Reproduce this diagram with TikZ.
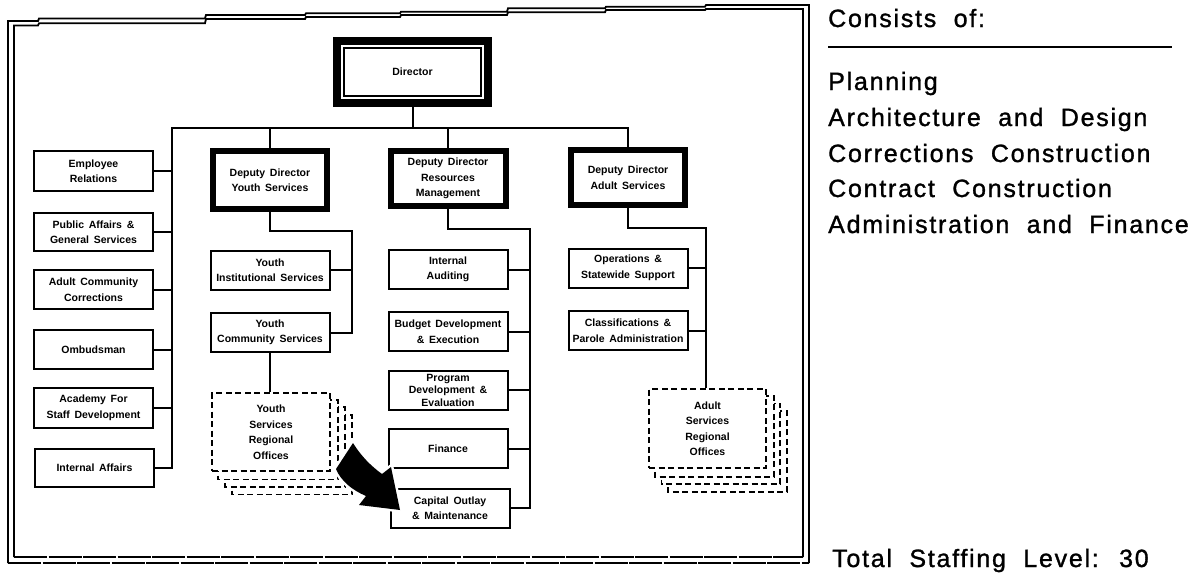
\documentclass[tikz,border=0pt]{standalone}
\usepackage{fontspec}
\setmainfont{Liberation Sans}
\newfontfamily\sidefont[LetterSpace=7,WordSpace=2,FakeBold=1.2]{Liberation Sans}
\newfontfamily\unitfont[WordSpace=1.6]{Liberation Sans}
\usetikzlibrary{backgrounds}

\tikzset{
  unit/.style={draw, line width=2pt, fill=white, minimum width=119pt,
    minimum height=39pt, inner sep=0pt, align=center,
    font=\unitfont\bfseries\fontsize{10.5}{15.5}\selectfont},
  deputy/.style={unit, line width=6pt, minimum width=114pt, minimum height=55pt},
  director/.style={unit, line width=8pt, minimum width=151pt, minimum height=62pt},
  office/.style={unit, line width=1.8pt, dash pattern=on 6pt off 3.5pt,
    minimum width=118pt, minimum height=78pt},
  backpage/.style={draw, fill=white, line width=1.8pt, dash pattern=on 6pt off 3.5pt},
  conn/.style={line width=2pt},
  frame/.style={line width=1.8pt},
  side/.style={inner sep=0pt, anchor=base west,
    font=\sidefont\fontsize{25}{29}\selectfont},
}

\begin{document}
\begin{tikzpicture}[x=1pt,y=-1pt]
\useasboundingbox (0,0) rectangle (1201,573);

% ---- double frame around the chart
\draw[frame] (8,563) -- (8,21) -- (38,21) -- (39,18.5) -- (205,18.5) -- (206,15)
  -- (305,15) -- (306,13.3) -- (400,13.3) -- (401,11.7) -- (507,11.7) -- (508,8.3)
  -- (605,8.3) -- (606,6.7) -- (705,6.7) -- (706,5) -- (809,5) -- (809,563);
\draw[frame] (14,557) -- (14,25.5) -- (38,25.5) -- (39,23.3) -- (205,23.3) -- (206,19)
  -- (305,19) -- (306,17) -- (400,17) -- (401,15) -- (507,15) -- (508,12.3)
  -- (605,12.3) -- (606,10) -- (705,10) -- (706,9) -- (803,9) -- (803,557);
\draw[frame, dash pattern=on 33pt off 1.5pt] (8,563) -- (809,563);
\draw[frame, dash pattern=on 33pt off 1.5pt] (14,557) -- (803,557);

% ---- director
\node[director] (dir) at (412.5,72) {Director};
\draw[line width=2pt] ([shift={(11,11)}]dir.north west) rectangle ([shift={(-11,-11)}]dir.south east);

% ---- staff units on the left
\node[unit, minimum height=40pt] (er)   at (93.5,171)   {Employee\\Relations};
\node[unit, minimum height=38pt] (pa)   at (93.5,232)   {Public Affairs \&\\General Services};
\node[unit] (acc)  at (93.5,289.5) {Adult Community\\Corrections};
\node[unit] (omb)  at (93.5,349.5) {Ombudsman};
\node[unit, minimum height=40pt] (acad) at (93.5,408)   {Academy For\\Staff Development};
\node[unit, minimum height=38pt] (ia)   at (94.5,468)   {Internal Affairs};

% ---- youth services
\node[deputy, minimum height=58pt] (dy) at (270,180) {Deputy Director\\Youth Services};
\node[unit] (yi) at (270,270)   {Youth\\Institutional Services};
\node[unit] (yc) at (270,332.5) {Youth\\Community Services};
\node[office] (ysro) at (271,432) {Youth\\Services\\Regional\\Offices};

% ---- resources management
\node[deputy, minimum width=115pt] (dr) at (448,178.5) {Deputy Director\\Resources\\Management};
\node[unit] (iaud) at (448,269.5) {Internal\\Auditing};
\node[unit] (bud)  at (448,331.5) {Budget Development\\\& Execution};
\node[unit, font=\unitfont\bfseries\fontsize{10.5}{12.5}\selectfont] (prog) at (448,390) {Program\\Development \&\\Evaluation};
\node[unit] (fin)  at (448,448.5) {Finance};
\node[unit] (cap)  at (450,508)   {Capital Outlay\\\& Maintenance};

% ---- adult services
\node[deputy] (da) at (628,177.5) {Deputy Director\\Adult Services};
\node[unit] (ops) at (628,268)   {Operations \&\\Statewide Support};
\node[unit] (cls) at (628,330.5) {Classifications \&\\Parole Administration};
\node[office, minimum width=117pt, minimum height=79pt] (asro) at (707.5,428.5) {Adult\\Services\\Regional\\Offices};

% ---- stacked pages behind the regional offices
\begin{pgfonlayer}{background}
\foreach \k in {3,2,1} {
  \draw[backpage] ([shift={(7*\k,7.5*\k)}]ysro.north west) rectangle ([shift={(7*\k,7.5*\k)}]ysro.south east);
  \draw[backpage] ([shift={(6.7*\k,7.7*\k)}]asro.north west) rectangle ([shift={(6.7*\k,7.7*\k)}]asro.south east);
}
\end{pgfonlayer}

% ---- main bus
\coordinate (busL) at (172,128);
\draw[conn] (dir.south) -- (dir.south |- busL);
\draw[conn] (ia.east) -| (busL) -| (da.north);
\draw[conn] (dy.north) -- (dy.north |- busL);
\draw[conn] (dr.north) -- (dr.north |- busL);
\foreach \n in {er,pa,acc,omb,acad}
  \draw[conn] (\n.east) -- (\n.east -| busL);

% ---- youth branch
\coordinate (ys) at (352,231);
\draw[conn] (dy.south) |- (ys) |- (yc.east);
\draw[conn] (yi.east) -- (yi.east -| ys);
\draw[conn] (yc.south) -- (yc.south |- ysro.north);

% ---- resources branch
\coordinate (rs) at (530,229);
\draw[conn] (dr.south) |- (rs) |- (cap.east);
\foreach \n in {iaud,bud,prog,fin}
  \draw[conn] (\n.east) -- (\n.east -| rs);

% ---- adult branch
\coordinate (as) at (706,228);
\draw[conn] (da.south) |- (as) -- (as |- asro.north);
\foreach \n in {ops,cls}
  \draw[conn] (\n.east) -- (\n.east -| as);

% ---- transfer arrow toward capital outlay
\fill[black, preaction={draw=white, line width=5pt}]
  (353,443) .. controls (361,456) and (371,466) .. (382,474) -- (391,467)
  -- (400,510) -- (359,505) -- (366,496)
  .. controls (352,490) and (341,481) .. (336,469) -- cycle;

% ---- side listing
\node[side] (cons) at (828,27) {Consists of:};
\draw[line width=2pt] (828,47) -- (1172,47);
\node[side] (l1) at (828,90)  {Planning};
\node[side] (l2) at (828,126) {Architecture and Design};
\node[side] (l3) at (828,162) {Corrections Construction};
\node[side] (l4) at (828,197) {Contract Construction};
\node[side] (l5) at (828,233) {Administration and Finance};
\node[side] (tot) at (832,567) {Total Staffing Level: 30};
\end{tikzpicture}
\end{document}
